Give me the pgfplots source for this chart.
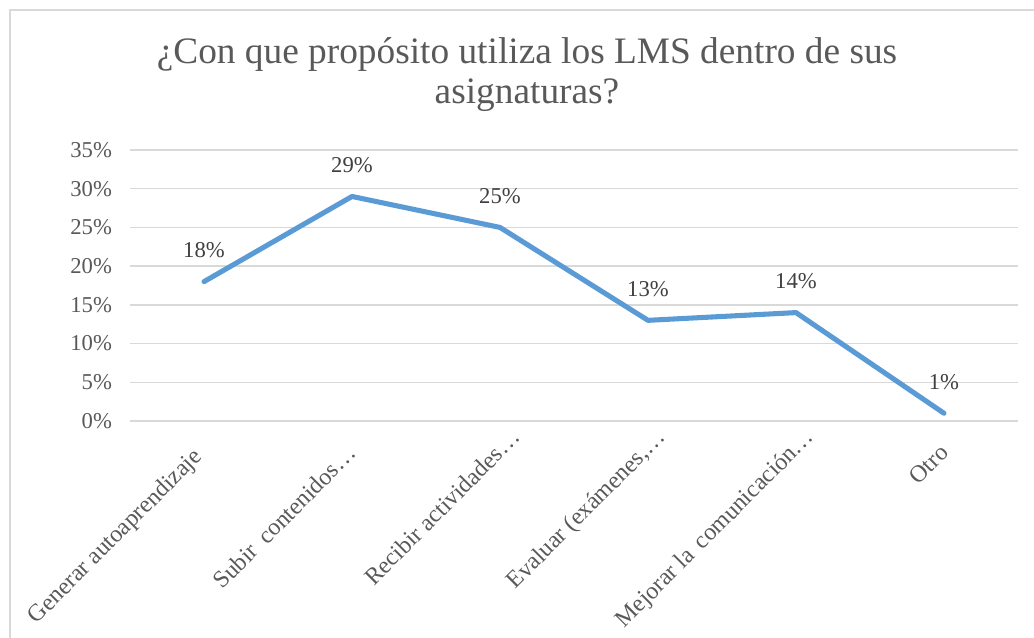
\documentclass[border=0pt]{standalone}
\usepackage{pgfplots}
\pgfplotsset{compat=1.18}
\usepackage{fontspec}
\setmainfont{Liberation Serif}
\definecolor{txtgray}{HTML}{595959}
\definecolor{lblgray}{HTML}{404040}
\definecolor{gridgray}{HTML}{D9D9D9}
\definecolor{lineblue}{HTML}{5B9BD5}
\begin{document}
\begin{tikzpicture}[x=0.75pt,y=0.75pt]
\useasboundingbox (0,0) rectangle (1034,638);
% chart frame (right and bottom edges fall outside the picture)
\draw[gridgray, line width=1.1pt] (10,-20) rectangle (1044,628);
% title
\node[anchor=base, text=txtgray, font=\fontsize{28}{33}\selectfont] at (527,574) {¿Con que propósito utiliza los LMS dentro de sus};
\node[anchor=base, text=txtgray, font=\fontsize{28}{33}\selectfont] at (527,534) {asignaturas?};
\begin{axis}[
    at={(97.5pt,162.75pt)}, anchor=south west,
    scale only axis,
    width=666pt, height=203.25pt,
    xmin=-0.5, xmax=5.5,
    ymin=0, ymax=35,
    axis line style={draw=none},
    major tick length=0pt,
    ymajorgrids=true,
    grid style={gridgray, line width=1pt},
    ytick={0,5,...,35},
    yticklabels={0\%,5\%,10\%,15\%,20\%,25\%,30\%,35\%},
    yticklabel style={text=txtgray, font=\fontsize{17}{20}\selectfont, xshift=-10pt},
    xtick=data,
    xticklabels={
        Generar autoaprendizaje\kern-2pt,
        Subir\hspace{0.45em}contenidos…\kern-7pt,
        Recibir actividades…\kern-24pt,
        {Evaluar (exámenes,…\kern-22.5pt},
        Mejorar la\hspace{0.4em}comunicación…\kern-23pt,
        Otro\kern-7.5pt},
    xticklabel style={yshift=-26pt, xshift=-5pt, rotate=45, anchor=east, inner sep=0pt, text=txtgray, font=\fontsize{18}{21}\selectfont},
    clip=false,
]
\addplot[lineblue, line width=3.8pt, line join=round, line cap=round,
    nodes near coords={\pgfmathprintnumber[assume math mode=true]{\pgfplotspointmeta}\%},
    every node near coord/.append style={anchor=center, yshift=23.5pt, text=lblgray, font=\fontsize{17}{20}\selectfont}]
coordinates {
    (0,18) (1,29) (2,25) (3,13) (4,14) (5,1)
};
\end{axis}
\end{tikzpicture}
\end{document}
